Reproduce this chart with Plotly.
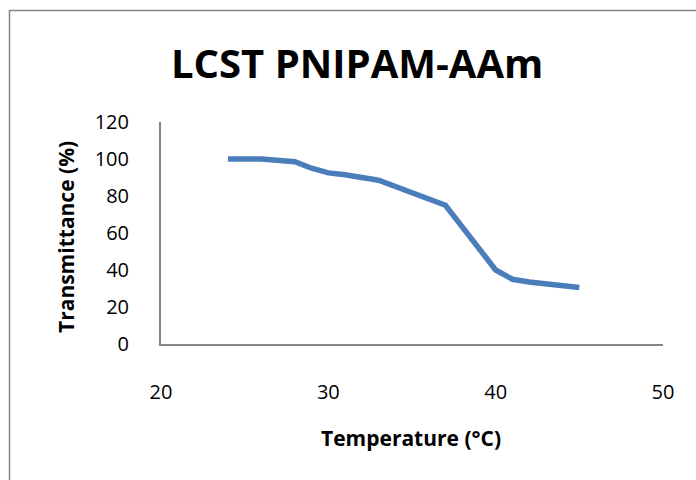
import plotly.graph_objects as go

# Transmittance of PNIPAM-AAm versus temperature
temperature_c = [24, 26, 28, 29, 30, 31, 33, 37, 40, 41, 42, 45]
transmittance_pct = [100, 100, 98.5, 95, 92.5, 91.5, 88.5, 75, 40, 35, 33.5, 30.5]

x_ticks = [20, 30, 40, 50]
y_ticks = [0, 20, 40, 60, 80, 100, 120]

FONT = "'Open Sans', Lato, sans-serif"
AXIS_GREY = "#868686"

fig = go.Figure()
fig.add_trace(go.Scatter(
    x=temperature_c,
    y=transmittance_pct,
    mode="lines",
    line=dict(color="#4A7EBB", width=5.5),
    showlegend=False,
    hoverinfo="x+y",
))

# plot area in pixels
W, H = 696, 480
L, R, T, B = 161, 663, 122, 344

fig.update_layout(
    width=W,
    height=H,
    margin=dict(l=L, r=W - R, t=T, b=H - B),
    paper_bgcolor="white",
    plot_bgcolor="white",
    font=dict(family=FONT, color="black", size=18),
    xaxis=dict(
        range=[20, 50],
        tickvals=x_ticks,
        showgrid=False,
        zeroline=False,
        showline=True,
        linecolor=AXIS_GREY,
        linewidth=2,
        ticks="",
        ticklabelstandoff=29,
        tickfont=dict(size=20, family=FONT),
    ),
    yaxis=dict(
        range=[0, 120],
        tickvals=y_ticks,
        showgrid=False,
        zeroline=False,
        showline=True,
        linecolor=AXIS_GREY,
        linewidth=2,
        ticks="",
        ticklabelstandoff=26,
        tickfont=dict(size=20, family=FONT),
    ),
    annotations=[
        dict(text="<b>LCST PNIPAM-AAm</b>", xref="paper", yref="paper",
             x=(357 - L) / (R - L), y=(B - 62) / (B - T),
             showarrow=False, xanchor="center", yanchor="middle",
             font=dict(size=40, family=FONT)),
        dict(text="<b>Temperature (°C)</b>", xref="paper", yref="paper",
             x=(411 - L) / (R - L), y=(B - 438) / (B - T),
             showarrow=False, xanchor="center", yanchor="middle",
             font=dict(size=21, family=FONT)),
        dict(text="<b>Transmittance (%)</b>", xref="paper", yref="paper",
             x=(66 - L) / (R - L), y=(B - 237) / (B - T),
             showarrow=False, xanchor="center", yanchor="middle",
             textangle=-90,
             font=dict(size=21, family=FONT)),
    ],
    shapes=[
        # outer chart frame
        dict(type="rect", xref="paper", yref="paper",
             x0=(9.5 - L) / (R - L), x1=1.2,
             y0=-1.0, y1=(B - 10.5) / (B - T),
             line=dict(color=AXIS_GREY, width=1.5), fillcolor="rgba(0,0,0,0)",
             layer="below"),
    ],
)

fig.write_html("out.html")
